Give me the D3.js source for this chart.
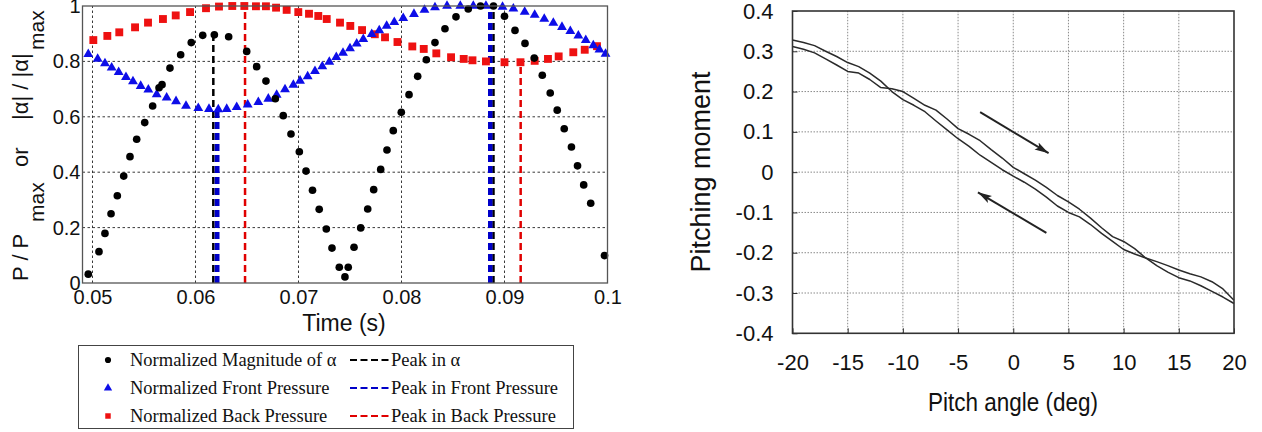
<!DOCTYPE html>
<html>
<head>
<meta charset="utf-8">
<script src="https://cdn.jsdelivr.net/npm/d3@7"></script>
<style>
  body { margin: 0; background: #fff; }
  svg { display: block; }
  .sans { font-family: "Liberation Sans", Arial, sans-serif; }
  .serif { font-family: "Liberation Serif", "Times New Roman", serif; }
</style>
</head>
<body>
<svg id="chart" width="1262" height="432"></svg>
<script>
// ---- left panel: normalized alpha / pressures vs time
var alphaT = [0.04959,0.05063,0.05121,0.05180,0.05241,0.05303,0.05364,0.05429,0.05507,0.05584,
  0.05646,0.05675,0.05752,0.05856,0.05959,0.06070,0.06183,0.06322,0.06497,0.06594,
  0.06684,0.06775,0.06852,0.06927,0.07008,0.07073,0.07136,0.07201,0.07270,0.07325,
  0.07396,0.07451,0.07483,0.07539,0.07604,0.07672,0.07730,0.07798,0.07859,0.07920,
  0.07998,0.08073,0.08157,0.08241,0.08325,0.08422,0.08529,0.08648,0.08767,0.08893,
  0.09000,0.09102,0.09199,0.09289,0.09367,0.09444,0.09512,0.09580,0.09650,0.09709,
  0.09769,0.09837,0.09971];
var alphaV = [0.032,0.113,0.179,0.250,0.315,0.386,0.456,0.519,0.579,0.639,
  0.705,0.716,0.776,0.824,0.868,0.894,0.896,0.889,0.836,0.781,
  0.729,0.665,0.604,0.538,0.474,0.404,0.335,0.266,0.195,0.126,
  0.057,0.022,0.057,0.129,0.199,0.267,0.337,0.410,0.480,0.550,
  0.616,0.680,0.746,0.806,0.868,0.918,0.961,0.989,1.000,1.000,
  0.963,0.912,0.865,0.812,0.750,0.686,0.624,0.557,0.491,0.423,
  0.354,0.288,0.099];

var frontT = [0.04959,0.05050,0.05121,0.05186,0.05254,0.05325,0.05393,0.05468,0.05542,0.05623,
  0.05720,0.05811,0.05908,0.06027,0.06131,0.06221,0.06303,0.06400,0.06507,0.06610,
  0.06707,0.06788,0.06869,0.06950,0.07015,0.07089,0.07160,0.07231,0.07299,0.07367,
  0.07432,0.07500,0.07565,0.07629,0.07711,0.07784,0.07856,0.07930,0.08017,0.08121,
  0.08223,0.08325,0.08442,0.08571,0.08697,0.08820,0.08981,0.09086,0.09196,0.09293,
  0.09386,0.09474,0.09558,0.09639,0.09717,0.09789,0.09862,0.09922,0.09981];
var frontV = [0.826,0.809,0.793,0.777,0.761,0.743,0.728,0.711,0.698,0.681,
  0.669,0.656,0.639,0.631,0.628,0.627,0.628,0.635,0.644,0.653,
  0.665,0.679,0.699,0.715,0.730,0.746,0.765,0.782,0.798,0.815,
  0.831,0.847,0.864,0.880,0.898,0.912,0.928,0.942,0.956,0.971,
  0.986,0.995,1.000,1.000,1.000,1.000,0.997,0.990,0.979,0.968,
  0.953,0.939,0.924,0.909,0.893,0.877,0.858,0.842,0.827];

var backT = [0.05008,0.05144,0.05260,0.05413,0.05539,0.05684,0.05808,0.05947,0.06102,0.06228,
  0.06357,0.06474,0.06587,0.06684,0.06782,0.06885,0.06998,0.07102,0.07192,0.07274,
  0.07403,0.07503,0.07617,0.07741,0.07840,0.07961,0.08105,0.08216,0.08338,0.08481,
  0.08604,0.08689,0.08820,0.09000,0.09155,0.09293,0.09422,0.09526,0.09668,0.09779,
  0.09898];
var backV = [0.877,0.892,0.905,0.923,0.940,0.953,0.966,0.978,0.992,0.998,
  1.000,1.000,0.999,0.999,0.994,0.986,0.978,0.972,0.964,0.953,
  0.940,0.928,0.913,0.898,0.887,0.870,0.854,0.845,0.829,0.815,
  0.809,0.804,0.800,0.797,0.797,0.802,0.809,0.818,0.833,0.842,
  0.855];

var peakAlphaT = [0.06173, 0.08893];
var peakAlphaV = [0.895, 1.0];
var peakFrontT = [0.06199, 0.06221, 0.08852, 0.08871];
var peakFrontV = [0.627, 0.627, 1.0, 1.0];
var peakBackT = [0.06481, 0.09157];
var peakBackV = [1.0, 0.797];

var timeTicks = [0.05, 0.06, 0.07, 0.08, 0.09, 0.1];
var ratioTicks = [0, 0.2, 0.4, 0.6, 0.8, 1];
var markerLabels = ['Normalized Magnitude of \u03b1', 'Normalized Front Pressure', 'Normalized Back Pressure'];
var peakLabels = ['Peak in \u03b1', 'Peak in Front Pressure', 'Peak in Back Pressure'];

// ---- right panel: pitching moment hysteresis
var pitchAngle = [-20,-19,-18,-17,-16,-15,-14,-13,-12,-11,-10,-9,-8,-7,-6,-5,-4,-3,-2,-1,
  0,1,2,3,4,5,6,7,8,9,10,11,12,13,14,15,16,17,18,19,20];
var momentUp = [0.312,0.305,0.296,0.281,0.266,0.250,0.246,0.230,0.210,0.207,
  0.200,0.183,0.166,0.154,0.132,0.108,0.094,0.078,0.056,0.035,
  0.012,-0.004,-0.020,-0.038,-0.058,-0.074,-0.092,-0.114,-0.138,-0.160,
  -0.172,-0.190,-0.213,-0.232,-0.248,-0.262,-0.270,-0.282,-0.296,-0.310,
  -0.326];
var momentDown = [0.328,0.322,0.314,0.300,0.287,0.272,0.262,0.246,0.226,0.200,
  0.180,0.166,0.150,0.127,0.105,0.083,0.064,0.042,0.024,0.006,
  -0.010,-0.025,-0.042,-0.062,-0.084,-0.100,-0.111,-0.130,-0.152,-0.172,
  -0.192,-0.203,-0.213,-0.222,-0.232,-0.243,-0.252,-0.260,-0.272,-0.290,
  -0.318];
var pitchTicks = [-20, -15, -10, -5, 0, 5, 10, 15, 20];
var momentTicks = [-0.4, -0.3, -0.2, -0.1, 0, 0.1, 0.2, 0.3, 0.4];
var arrowFrom = [[-3.0, 0.149], [3.0, -0.151]];
var arrowTo = [[3.2, 0.047], [-3.2, -0.050]];

var svg = d3.select('#chart');

// ================= left panel =================
var left = svg.append('g');
var x = d3.scaleLinear().domain([0.049029, 0.1]).range([82.5, 607.5]);
var y = d3.scaleLinear().domain([0, 1]).range([283, 6]);

var grid = left.append('g')
  .attr('stroke', '#222')
  .attr('stroke-width', 0.9)
  .attr('stroke-dasharray', '2.5,2.5');
grid.selectAll('.gx').data(timeTicks).enter().append('line')
  .attr('x1', function(d) { return x(d); }).attr('x2', function(d) { return x(d); })
  .attr('y1', y(0)).attr('y2', y(1));
grid.selectAll('.gy').data(ratioTicks.slice(1, -1)).enter().append('line')
  .attr('x1', x.range()[0]).attr('x2', x.range()[1])
  .attr('y1', function(d) { return y(d); }).attr('y2', function(d) { return y(d); });

function peakLines(ts, vs, color) {
  left.append('g').selectAll('line').data(ts).enter().append('line')
    .attr('x1', function(d) { return x(d); }).attr('x2', function(d) { return x(d); })
    .attr('y1', y(0))
    .attr('y2', function(d, i) { return y(vs[i]); })
    .attr('stroke', color)
    .attr('stroke-width', 2.5)
    .attr('stroke-dasharray', '7,4');
}
peakLines(peakAlphaT, peakAlphaV, '#000');
peakLines(peakFrontT, peakFrontV, '#0000c8');
peakLines(peakBackT, peakBackV, '#e00000');

var circle = d3.symbol().type(d3.symbolCircle).size(46);
var tri = d3.symbol().type(d3.symbolTriangle).size(42);
var square = d3.symbol().type(d3.symbolSquare).size(62);

function markers(ts, vs, sym, color) {
  left.append('g').selectAll('path').data(ts).enter().append('path')
    .attr('d', sym)
    .attr('transform', function(d, i) { return 'translate(' + x(d) + ',' + y(vs[i]) + ')'; })
    .attr('fill', color);
}
markers(backT, backV, square, '#ee1111');
markers(frontT, frontV, tri, '#0d0de8');
markers(alphaT, alphaV, circle, '#000');

left.append('rect')
  .attr('x', x.range()[0]).attr('y', y(1))
  .attr('width', x.range()[1] - x.range()[0]).attr('height', y(0) - y(1))
  .attr('fill', 'none').attr('stroke', '#555').attr('stroke-width', 1.3);

var xAxis = d3.axisBottom(x).tickValues(timeTicks).tickSize(0).tickPadding(7)
  .tickFormat(function(d) { return d === 0.1 ? '0.1' : d.toFixed(2); });
left.append('g').attr('class', 'sans').attr('transform', 'translate(0,' + y(0) + ')')
  .call(xAxis)
  .call(function(g) { g.select('.domain').remove(); })
  .selectAll('text').attr('font-size', 20).attr('fill', '#111').attr('font-family', null);

var yAxis = d3.axisLeft(y).tickValues(ratioTicks).tickSize(0).tickPadding(2)
  .tickFormat(function(d) { return (d === 0 || d === 1) ? String(d) : d.toFixed(1); });
left.append('g').attr('class', 'sans').attr('transform', 'translate(' + x.range()[0] + ',0)')
  .call(yAxis)
  .call(function(g) { g.select('.domain').remove(); })
  .selectAll('text').attr('font-size', 20).attr('fill', '#111').attr('font-family', null);

left.append('text').attr('class', 'sans')
  .attr('x', 344).attr('y', 331)
  .attr('text-anchor', 'middle').attr('font-size', 23).attr('fill', '#111')
  .text('Time (s)');

var yTitle = left.append('text').attr('class', 'sans')
  .attr('transform', 'translate(28,281) rotate(-90)')
  .attr('font-size', 22).attr('fill', '#111');
yTitle.append('tspan').attr('x', 0).attr('y', 0).text('P / P');
yTitle.append('tspan').attr('x', 59).attr('y', 16).attr('font-size', 21).text('max');
yTitle.append('tspan').attr('x', 114).attr('y', 0).text('or');
yTitle.append('tspan').attr('x', 161).attr('y', 0).text('|\u03b1| / |\u03b1|');
yTitle.append('tspan').attr('x', 231).attr('y', 16).attr('font-size', 21).text('max');

// legend
var legend = left.append('g').attr('class', 'serif');
legend.append('rect')
  .attr('x', 78.5).attr('y', 345.5).attr('width', 495).attr('height', 83)
  .attr('fill', '#fff').attr('stroke', '#444').attr('stroke-width', 1);
var rowY = [360, 388, 416];
var legendSyms = [d3.symbolCircle, d3.symbolTriangle, d3.symbolSquare];
var legendColors = ['#000', '#0d0de8', '#ee1111'];
var peakColors = ['#000', '#0000c8', '#e00000'];
markerLabels.forEach(function(lbl, i) {
  legend.append('path').attr('d', d3.symbol().type(legendSyms[i]).size(30))
    .attr('transform', 'translate(108,' + rowY[i] + ')').attr('fill', legendColors[i]);
  legend.append('text').attr('x', 130).attr('y', rowY[i] + 6)
    .attr('font-size', 18.5).attr('fill', '#111').text(lbl);
  legend.append('line').attr('x1', 350).attr('x2', 389)
    .attr('y1', rowY[i]).attr('y2', rowY[i])
    .attr('stroke', peakColors[i]).attr('stroke-width', 2.2).attr('stroke-dasharray', '7,3.5');
  legend.append('text').attr('x', 391).attr('y', rowY[i] + 6)
    .attr('font-size', 18.5).attr('fill', '#111').text(peakLabels[i]);
});

// ================= right panel =================
var right = svg.append('g');
var xr = d3.scaleLinear().domain([-20, 20]).range([792.5, 1234]);
var yr = d3.scaleLinear().domain([-0.4, 0.4]).range([333.3, 11]);

var rgrid = right.append('g')
  .attr('stroke', '#8a8a8a').attr('stroke-width', 1).attr('stroke-dasharray', '1.5,1.5');
rgrid.selectAll('.gx').data(pitchTicks.slice(1, -1)).enter().append('line')
  .attr('x1', function(d) { return xr(d); }).attr('x2', function(d) { return xr(d); })
  .attr('y1', yr(-0.4)).attr('y2', yr(0.4));
rgrid.selectAll('.gy').data(momentTicks.slice(1, -1)).enter().append('line')
  .attr('x1', xr(-20)).attr('x2', xr(20))
  .attr('y1', function(d) { return yr(d); }).attr('y2', function(d) { return yr(d); });

var line = d3.line()
  .x(function(d, i) { return xr(pitchAngle[i]); })
  .y(function(d) { return yr(d); });
[momentUp, momentDown].forEach(function(series) {
  right.append('path').datum(series)
    .attr('d', line)
    .attr('fill', 'none').attr('stroke', '#2a2a2a').attr('stroke-width', 1.5)
    .attr('stroke-linejoin', 'round');
});

svg.append('defs').append('marker')
  .attr('id', 'arrowhead')
  .attr('markerUnits', 'userSpaceOnUse')
  .attr('markerWidth', 16).attr('markerHeight', 10)
  .attr('refX', 14).attr('refY', 5)
  .attr('orient', 'auto')
  .append('path').attr('d', 'M0,1 L14,5 L0,9 L3,5 Z').attr('fill', '#222');

arrowFrom.forEach(function(a, i) {
  right.append('line')
    .attr('x1', xr(a[0])).attr('y1', yr(a[1]))
    .attr('x2', xr(arrowTo[i][0])).attr('y2', yr(arrowTo[i][1]))
    .attr('stroke', '#222').attr('stroke-width', 2)
    .attr('marker-end', 'url(#arrowhead)');
});

// frame with inward ticks
right.append('rect')
  .attr('x', xr(-20)).attr('y', yr(0.4))
  .attr('width', xr(20) - xr(-20)).attr('height', yr(-0.4) - yr(0.4))
  .attr('fill', 'none').attr('stroke', '#333').attr('stroke-width', 1.6);

var xrAxis = d3.axisBottom(xr).tickValues(pitchTicks).tickSizeInner(-5).tickSizeOuter(0).tickPadding(21)
  .tickFormat(function(d) { return String(d); });
right.append('g').attr('class', 'sans').attr('transform', 'translate(0,' + yr(-0.4) + ')')
  .call(xrAxis)
  .call(function(g) { g.select('.domain').remove(); g.selectAll('line').attr('stroke', '#333'); })
  .selectAll('text').attr('font-size', 22).attr('fill', '#111').attr('font-family', null);

var yrAxis = d3.axisLeft(yr).tickValues(momentTicks).tickSizeInner(-5).tickSizeOuter(0).tickPadding(19)
  .tickFormat(function(d) { return String(d); });
right.append('g').attr('class', 'sans').attr('transform', 'translate(' + xr(-20) + ',0)')
  .call(yrAxis)
  .call(function(g) { g.select('.domain').remove(); g.selectAll('line').attr('stroke', '#333'); })
  .selectAll('text').attr('font-size', 22).attr('fill', '#111').attr('font-family', null);

right.append('text').attr('class', 'sans')
  .attr('x', 1013).attr('y', 411)
  .attr('text-anchor', 'middle').attr('font-size', 25).attr('fill', '#111')
  .attr('textLength', 170).attr('lengthAdjust', 'spacingAndGlyphs')
  .text('Pitch angle (deg)');

right.append('text').attr('class', 'sans')
  .attr('transform', 'translate(710,172) rotate(-90)')
  .attr('text-anchor', 'middle').attr('font-size', 27).attr('fill', '#111')
  .text('Pitching moment');
</script>
</body>
</html>
